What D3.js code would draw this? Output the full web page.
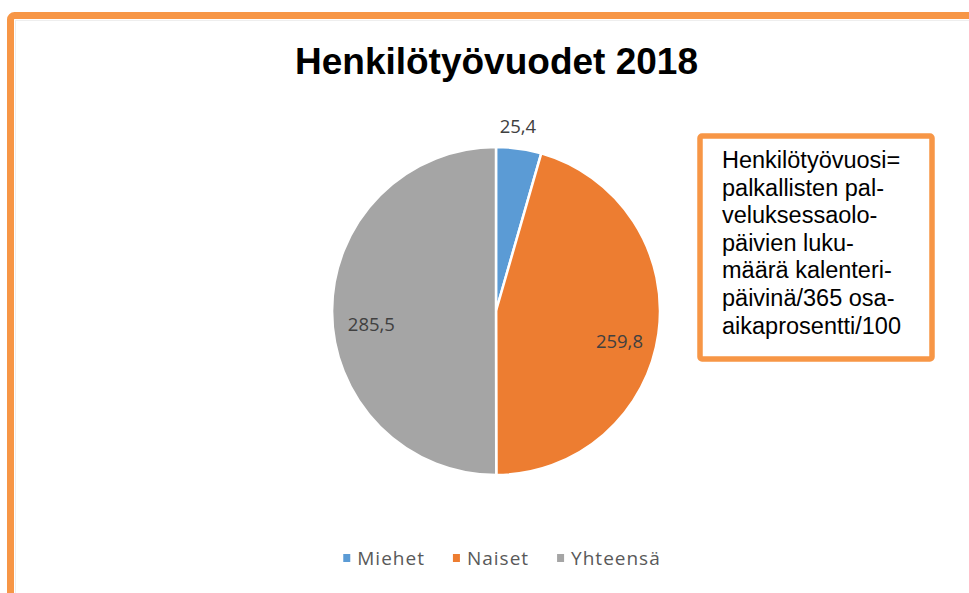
<!DOCTYPE html>
<html>
<head>
<meta charset="utf-8">
<script src="https://cdn.jsdelivr.net/npm/d3@7"></script>
<style>
  html, body { margin: 0; padding: 0; background: #ffffff; }
  svg { display: block; }
</style>
</head>
<body>
<svg id="chart" width="969" height="593"></svg>
<script>
// ---- data ----
const titleText = "Henkilötyövuodet 2018";
const categories = ["Miehet", "Naiset", "Yhteensä"];
const values = [25.4, 259.8, 285.5];
const colors = ["#5B9BD5", "#ED7D31", "#A5A5A5"];
const noteLines = [
  "Henkilötyövuosi=",
  "palkallisten pal-",
  "veluksessaolo-",
  "päivien luku-",
  "määrä kalenteri-",
  "päivinä/365 osa-",
  "aikaprosentti/100"
];

const svg = d3.select("#chart");
const fmt = v => d3.format(".1f")(v).replace(".", ",");

// outer frame
svg.append("rect")
  .attr("x", 15.5).attr("y", 20.5).attr("width", 980).attr("height", 600)
  .attr("fill", "none").attr("stroke", "#eeeeee").attr("stroke-width", 1);
svg.append("rect")
  .attr("x", 10.5).attr("y", 15.5).attr("width", 990).attr("height", 620)
  .attr("rx", 4)
  .attr("fill", "none").attr("stroke", "#F79646").attr("stroke-width", 7);

// title
svg.append("text")
  .attr("x", 496.5).attr("y", 74)
  .attr("text-anchor", "middle")
  .attr("font-family", "'Liberation Sans', Arial, sans-serif")
  .attr("font-weight", "bold")
  .attr("font-size", 37)
  .attr("fill", "#000")
  .text(titleText);

// pie
const cx = 496, cy = 311, r = 164;
const data = categories.map((c, i) => ({ cat: c, value: values[i], color: colors[i] }));
const pie = d3.pie().value(d => d.value).sort(null);
const arcs = pie(data);
const arc = d3.arc().innerRadius(0).outerRadius(r);
const g = svg.append("g").attr("transform", `translate(${cx},${cy})`);
g.selectAll("path.slice").data(arcs).join("path")
  .attr("class", "slice")
  .attr("d", arc)
  .attr("fill", d => d.data.color)
  .attr("stroke", "#ffffff")
  .attr("stroke-width", 2.5)
  .attr("stroke-linejoin", "round");

// labels
const inArc = d3.arc().innerRadius(r * 0.76).outerRadius(r * 0.76);
const outArc = d3.arc().innerRadius(r + 22).outerRadius(r + 22);
g.selectAll("text.lbl").data(arcs).join("text")
  .attr("class", "lbl")
  .attr("transform", d => {
    const small = (d.endAngle - d.startAngle) < 0.6;
    const p = small ? outArc.centroid(d) : inArc.centroid(d);
    const shift = small ? 0 : 13;
    return `translate(${p[0] - (small ? 4 : 0)},${p[1] + shift})`;
  })
  .attr("dy", "0.35em")
  .attr("text-anchor", "middle")
  .attr("font-family", "'Open Sans', 'Noto Sans', sans-serif")
  .attr("font-size", 18.5)
  .attr("fill", "#404040")
  .text(d => fmt(d.data.value));

// legend
const legend = svg.append("g");
const legFont = 19;
let lx = 0;
data.forEach((d, i) => {
  const it = legend.append("g");
  it.append("rect").attr("x", 0).attr("y", -4).attr("width", 7).attr("height", 8).attr("fill", d.color);
  const t = it.append("text")
    .attr("x", 14).attr("y", 0).attr("dy", "0.35em")
    .attr("font-family", "'Open Sans', 'Noto Sans', sans-serif")
    .attr("font-size", legFont)
    .attr("letter-spacing", 1)
    .attr("fill", "#595959")
    .text(d.cat);
  const w = 14 + t.node().getComputedTextLength();
  it.attr("transform", `translate(${lx},0)`);
  lx += w + 28;
});
const totalW = lx - 28;
legend.attr("transform", `translate(${502 - totalW / 2},558)`);

// note box
const box = svg.append("g");
box.append("rect")
  .attr("x", 700).attr("y", 136).attr("width", 232).attr("height", 223)
  .attr("rx", 2)
  .attr("fill", "#ffffff").attr("stroke", "#F79646").attr("stroke-width", 5.5);
box.selectAll("text").data(noteLines).join("text")
  .attr("x", 722)
  .attr("y", (d, i) => 168 + i * 27.6)
  .attr("font-family", "'Liberation Sans', Arial, sans-serif")
  .attr("font-size", 23.5)
  .attr("fill", "#000")
  .text(d => d);
</script>
</body>
</html>
